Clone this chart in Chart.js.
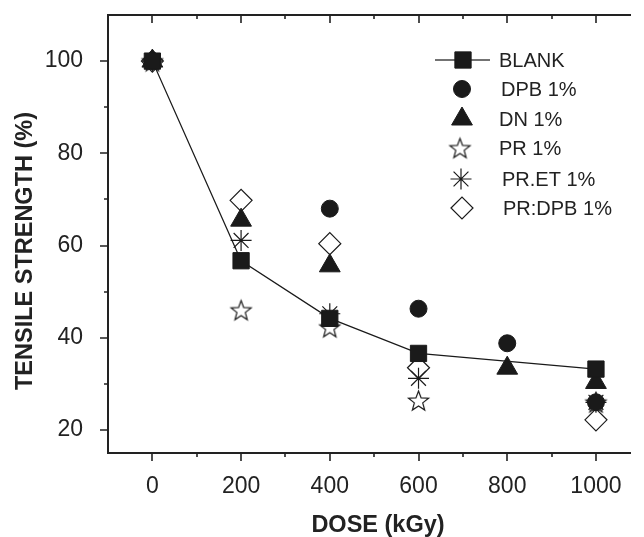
<!DOCTYPE html>
<html>
<head>
<meta charset="utf-8">
<script src="https://cdn.jsdelivr.net/npm/chart.js@4.4.1/dist/chart.umd.min.js"></script>
<style>
  html, body { margin: 0; padding: 0; background: #fff; overflow: hidden; }
  canvas { display: block; }
</style>
</head>
<body>
<canvas id="myChart" width="644" height="537"></canvas>
<script>
// values (dose in kGy, tensile strength in %)
const doses = [0, 200, 400, 600, 800, 1000];
const blank = [100, 56.7, 44.2, 36.6, null, 33.2];
const dpb   = [100, null, 68.0, 46.3, 38.8, 26.0];
const dn    = [100, 65.5, 55.6, null, 33.4, 30.3];
const pr    = [100, 46.0, 42.3, 26.4, null, 26.0];
const prEt  = [100, 61.1, 45.2, 31.2, null, 26.0];
const prDpb = [100, 69.8, 60.4, 33.5, null, 22.2];
const seriesNames = ["BLANK", "DPB 1%", "DN 1%", "PR 1%", "PR.ET 1%", "PR:DPB 1%"];
const xTicks = [0, 200, 400, 600, 800, 1000];
const yTicks = [20, 40, 60, 80, 100];

const ink = "#1a1a1a";
const fontFam = "'Liberation Sans', Arial, sans-serif";

// open five point star
function makeStar(r) {
  var c = document.createElement("canvas");
  var s = Math.ceil(r * 2 + 4);
  c.width = s; c.height = s;
  var g = c.getContext("2d");
  g.beginPath();
  for (var i = 0; i < 10; i++) {
    var rad = i % 2 === 0 ? r : r * 0.42;
    var a = -Math.PI / 2 + i * Math.PI / 5;
    var px = s / 2 + rad * Math.cos(a), py = s / 2 + 1 + rad * Math.sin(a);
    if (i === 0) g.moveTo(px, py); else g.lineTo(px, py);
  }
  g.closePath();
  g.fillStyle = "#fff";
  g.fill();
  g.lineWidth = 1.2;
  g.strokeStyle = ink;
  g.stroke();
  return c;
}
const starImg = makeStar(10.5);

function pts(vals) {
  var out = [];
  for (var i = 0; i < doses.length; i++) {
    if (vals[i] !== null) out.push({ x: doses[i], y: vals[i] });
  }
  return out;
}

const styles = [
  { pointStyle: "rect", pointRadius: 11.5, backgroundColor: ink, borderColor: ink, borderWidth: 1 },
  { pointStyle: "circle", pointRadius: 8.5, backgroundColor: ink, borderColor: ink, borderWidth: 1 },
  { pointStyle: "triangle", pointRadius: 12, backgroundColor: ink, borderColor: ink, borderWidth: 1 },
  { pointStyle: starImg, pointRadius: 10, backgroundColor: "#fff", borderColor: ink, borderWidth: 1 },
  { pointStyle: "star", pointRadius: 10.5, backgroundColor: ink, borderColor: ink, borderWidth: 1.2 },
  { pointStyle: "rectRot", pointRadius: 11, backgroundColor: "#fff", borderColor: ink, borderWidth: 1.2 }
];
const allVals = [blank, dpb, dn, pr, prEt, prDpb];

const datasets = allVals.map(function (v, i) {
  return {
    label: seriesNames[i],
    data: pts(v),
    showLine: i === 0,
    borderColor: ink,
    borderWidth: 1.2,
    pointStyle: styles[i].pointStyle,
    pointRadius: styles[i].pointRadius,
    pointHoverRadius: styles[i].pointRadius,
    pointBorderColor: styles[i].borderColor,
    pointBackgroundColor: styles[i].backgroundColor,
    pointBorderWidth: styles[i].borderWidth,
    fill: false
  };
});

// frame, tick marks, axis titles and legend
const decor = {
  id: "decor",
  afterDraw: function (chart) {
    var ctx = chart.ctx, a = chart.chartArea;
    var xs = chart.scales.x, ys = chart.scales.y;
    ctx.save();
    ctx.strokeStyle = "#222";
    ctx.lineWidth = 2;
    ctx.beginPath();
    ctx.moveTo(a.right, a.top); ctx.lineTo(a.left, a.top);
    ctx.lineTo(a.left, a.bottom); ctx.lineTo(a.right, a.bottom);
    ctx.stroke();
    ctx.lineWidth = 1.6;
    ctx.beginPath();
    for (var v = -100; v <= 1100; v += 100) {
      var px = Math.round(xs.getPixelForValue(v));
      if (px <= a.left + 1 || px > a.right) continue;
      var len = v % 200 === 0 ? 8 : 4;
      ctx.moveTo(px, a.bottom); ctx.lineTo(px, a.bottom + len);
      ctx.moveTo(px, a.top); ctx.lineTo(px, a.top + len);
    }
    for (var w = 20; w <= 100; w += 10) {
      var py = Math.round(ys.getPixelForValue(w));
      var l2 = w % 20 === 0 ? 8 : 4;
      ctx.moveTo(a.left, py); ctx.lineTo(a.left - l2, py);
    }
    ctx.stroke();

    // axis titles
    ctx.fillStyle = "#222";
    ctx.font = "bold 23.5px " + fontFam;
    ctx.textAlign = "center";
    ctx.textBaseline = "middle";
    ctx.fillText("DOSE (kGy)", 378, 526);
    ctx.save();
    ctx.translate(26, 251);
    ctx.rotate(-Math.PI / 2);
    ctx.fillText("TENSILE STRENGTH (%)", 0, 0);
    ctx.restore();

    // legend
    var rows = [
      { x: 463, y: 60, tx: 499 },
      { x: 462, y: 89, tx: 501 },
      { x: 462, y: 119, tx: 499 },
      { x: 460, y: 148, tx: 499 },
      { x: 461, y: 179, tx: 502 },
      { x: 462, y: 208, tx: 503 }
    ];
    ctx.font = "20px " + fontFam;
    ctx.textAlign = "left";
    rows.forEach(function (r, i) {
      var st = styles[i];
      if (i === 0) {
        ctx.strokeStyle = "#444";
        ctx.lineWidth = 1.3;
        ctx.beginPath();
        ctx.moveTo(435, r.y); ctx.lineTo(490, r.y);
        ctx.stroke();
      }
      ctx.fillStyle = st.backgroundColor;
      ctx.strokeStyle = st.borderColor;
      ctx.lineWidth = st.borderWidth;
      Chart.helpers.drawPoint(ctx, {
        pointStyle: st.pointStyle, radius: st.pointRadius, rotation: 0, borderWidth: st.borderWidth
      }, r.x, r.y);
      ctx.fillStyle = "#222";
      ctx.fillText(seriesNames[i], r.tx, r.y + 1);
    });
    ctx.restore();
  }
};

function noPad(s) {
  s.paddingTop = 0; s.paddingBottom = 0; s.paddingLeft = 0; s.paddingRight = 0;
}

new Chart("myChart", {
  type: "scatter",
  data: { datasets: datasets },
  options: {
    responsive: false,
    animation: false,
    events: [],
    layout: { padding: { top: 15, right: 0, left: 0, bottom: 0 } },
    plugins: { legend: { display: false }, tooltip: { enabled: false } },
    scales: {
      x: {
        type: "linear",
        min: -100,
        max: 1079,
        afterBuildTicks: function (s) { s.ticks = xTicks.map(function (v) { return { value: v }; }); },
        afterFit: function (s) { s.height = 84; noPad(s); },
        grid: { display: false },
        border: { display: false },
        ticks: {
          color: "#222", font: { size: 23, family: fontFam }, padding: 12, maxRotation: 0,
          callback: function (v) { return String(v); }
        }
      },
      y: {
        type: "linear",
        min: 15,
        max: 110,
        afterBuildTicks: function (s) { s.ticks = yTicks.map(function (v) { return { value: v }; }); },
        afterFit: function (s) { s.width = 108; noPad(s); },
        grid: { display: false },
        border: { display: false },
        ticks: { color: "#222", font: { size: 23, family: fontFam }, padding: 17 }
      }
    }
  },
  plugins: [decor]
});
</script>
</body>
</html>
